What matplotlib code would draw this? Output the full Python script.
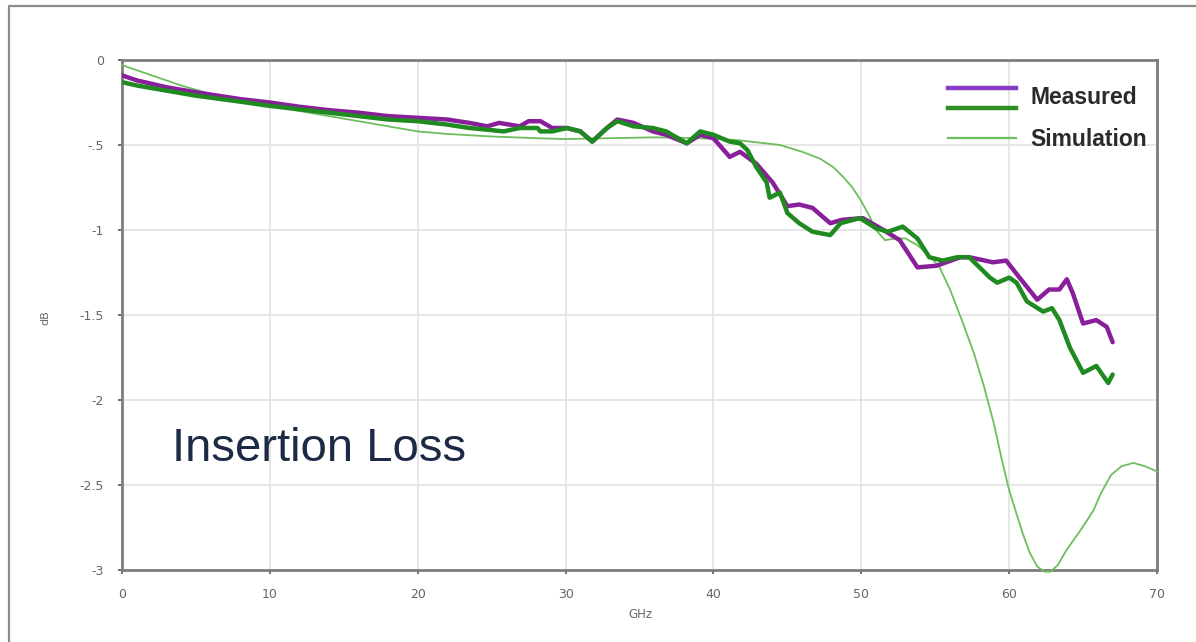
import matplotlib
matplotlib.use('Agg')
import matplotlib.pyplot as plt
from matplotlib.lines import Line2D

# Insertion loss, measured (two samples) vs simulation
purple_ghz = [0, 1, 3, 5, 8, 10, 12, 14, 16, 18, 20, 22, 23.5, 24.7, 25.5, 26.2,
              26.9, 27.5, 28.3, 29.1, 30.1, 31.0, 31.8, 32.8, 33.5, 34.6, 35.9,
              36.8, 38.2, 39.1, 40.0, 41.1, 41.8, 42.9, 44.0, 45.0, 45.8, 46.7,
              47.9, 48.7, 50.1, 51.5, 52.6, 53.8, 55.1, 56.7, 57.3, 58.9, 59.8,
              60.7, 61.9, 62.7, 63.4, 63.9, 64.3, 65.0, 65.9, 66.6, 67.0]
purple_db = [-0.09, -0.12, -0.16, -0.19, -0.23, -0.25, -0.275, -0.295, -0.31, -0.33,
             -0.34, -0.35, -0.37, -0.39, -0.37, -0.38, -0.39, -0.36, -0.36, -0.40,
             -0.40, -0.42, -0.48, -0.40, -0.35, -0.37, -0.42, -0.44, -0.49, -0.44,
             -0.46, -0.57, -0.54, -0.61, -0.72, -0.86, -0.85, -0.87, -0.96, -0.94,
             -0.93, -1.00, -1.06, -1.22, -1.21, -1.16, -1.16, -1.19, -1.18, -1.28,
             -1.41, -1.35, -1.35, -1.29, -1.37, -1.55, -1.53, -1.57, -1.66]

green_ghz = [0, 1, 3, 5, 8, 10, 12, 14, 16, 18, 20, 22, 23.5, 24.7, 25.8, 26.9,
             28.1, 28.3, 29.1, 30.1, 31.0, 31.8, 32.8, 33.5, 34.6, 35.9, 36.8,
             38.2, 39.1, 40.0, 41.1, 41.8, 42.3, 42.9, 43.6, 43.8, 44.5, 45.0,
             45.8, 46.7, 47.9, 48.6, 49.9, 51.0, 51.8, 52.8, 53.8, 54.6, 55.5,
             56.5, 57.3, 58.7, 59.2, 60.0, 60.5, 61.2, 62.3, 62.9, 63.4, 64.1,
             65.0, 65.9, 66.7, 67.0]
green_db = [-0.13, -0.15, -0.18, -0.21, -0.245, -0.27, -0.29, -0.31, -0.33, -0.35,
            -0.36, -0.38, -0.40, -0.41, -0.42, -0.40, -0.40, -0.42, -0.42, -0.40,
            -0.42, -0.48, -0.40, -0.36, -0.39, -0.40, -0.42, -0.49, -0.42, -0.44,
            -0.48, -0.49, -0.53, -0.63, -0.72, -0.81, -0.78, -0.90, -0.96, -1.01,
            -1.03, -0.96, -0.93, -0.99, -1.01, -0.98, -1.05, -1.16, -1.18, -1.16,
            -1.16, -1.28, -1.31, -1.28, -1.31, -1.42, -1.48, -1.46, -1.53, -1.69,
            -1.84, -1.80, -1.90, -1.85]

sim_ghz = [0, 2, 4, 6, 8, 10, 12, 14, 16, 18, 20, 22, 25, 28, 30, 33, 36, 39,
           41.5, 43.0, 44.5, 46.0, 47.2, 48.1, 48.8, 49.4, 50.0, 50.5, 51.0,
           51.6, 52.3, 53.0, 53.8, 54.6, 55.3, 56.0, 56.8, 57.6, 58.3, 59.0,
           59.5, 60.0, 60.5, 60.9, 61.4, 61.9, 62.4, 62.8, 63.3, 63.9, 64.8,
           65.7, 66.2, 66.9, 67.6, 68.4, 69.2, 70]
sim_db = [-0.03, -0.09, -0.15, -0.20, -0.24, -0.27, -0.30, -0.33, -0.36, -0.39,
          -0.42, -0.435, -0.45, -0.46, -0.465, -0.46, -0.455, -0.46, -0.47, -0.485,
          -0.50, -0.54, -0.58, -0.63, -0.69, -0.75, -0.83, -0.91, -1.00, -1.06,
          -1.05, -1.05, -1.09, -1.15, -1.22, -1.35, -1.53, -1.72, -1.92, -2.15,
          -2.35, -2.53, -2.67, -2.78, -2.90, -2.98, -3.01, -3.01, -2.97, -2.88,
          -2.77, -2.65, -2.55, -2.44, -2.39, -2.37, -2.39, -2.42]

x_ticks = [0, 10, 20, 30, 40, 50, 60, 70]
y_ticks = [0, -0.5, -1, -1.5, -2, -2.5, -3]
y_tick_labels = ['0', '-.5', '-1', '-1.5', '-2', '-2.5', '-3']

W, H = 1196, 642
purple = '#8a1f9c'
green = '#1f8a1f'
sim_green = '#6cbf5c'
frame = '#7d7d7d'
label_gray = '#666666'


def fx(px):
    return px / W


def fy(py):
    return 1 - py / H


fig = plt.figure(figsize=(W / 100, H / 100), dpi=100)
ax = fig.add_axes([fx(122), fy(570), fx(1157) - fx(122), fy(60) - fy(570)])

ax.plot(sim_ghz, sim_db, color=sim_green, lw=1.3, zorder=2.6, clip_on=False)
ax.plot(purple_ghz, purple_db, color=purple, lw=3.2, zorder=2.7,
        solid_joinstyle='round', solid_capstyle='round')
ax.plot(green_ghz, green_db, color=green, lw=3.2, zorder=2.8,
        solid_joinstyle='round', solid_capstyle='round')

ax.set_xlim(0, 70)
ax.set_ylim(-3, 0)
ax.set_xticks(x_ticks)
ax.set_yticks(y_ticks)
ax.set_yticklabels(y_tick_labels)
ax.grid(True, color='#e4e4e4', lw=1.3)
ax.set_axisbelow(True)
for s in ax.spines.values():
    s.set_color(frame)
    s.set_linewidth(2)
ax.tick_params(direction='out', length=3, width=1.2, color='#555555',
               labelsize=9, labelcolor=label_gray, pad=10)

# axis titles
fig.text(fx(45), fy(318), 'dB', rotation=90, ha='center', va='center',
         fontsize=8, color=label_gray)
fig.text(fx(640), fy(614), 'GHz', ha='center', va='center',
         fontsize=8.5, color=label_gray)

# big annotation
fig.text(fx(172), fy(461), 'Insertion Loss', ha='left', va='baseline',
         fontsize=34, color='#1c2a45', family='Liberation Sans')

# hand drawn legend
fig.add_artist(Line2D([fx(948), fx(1016)], [fy(88), fy(88)], color='#8a3cc4', lw=3.2))
fig.add_artist(Line2D([fx(948), fx(1016)], [fy(108), fy(108)], color='#2e8f22', lw=3.2))
fig.add_artist(Line2D([fx(948), fx(1016)], [fy(138), fy(138)], color=sim_green, lw=1.6))
fig.text(fx(1030), fy(98), 'Measured', ha='left', va='center', fontsize=16.5,
         fontweight='bold', color='#2a2a2a', family='Liberation Sans')
fig.text(fx(1030), fy(139), 'Simulation', ha='left', va='center', fontsize=16.5,
         fontweight='bold', color='#2a2a2a', family='Liberation Sans')

# outer slide border
fig.add_artist(Line2D([fx(9), fx(9), 1.0], [0.0, fy(6), fy(6)], color='#8c8c8c', lw=1.6))

fig.savefig('out.png', dpi=100)
